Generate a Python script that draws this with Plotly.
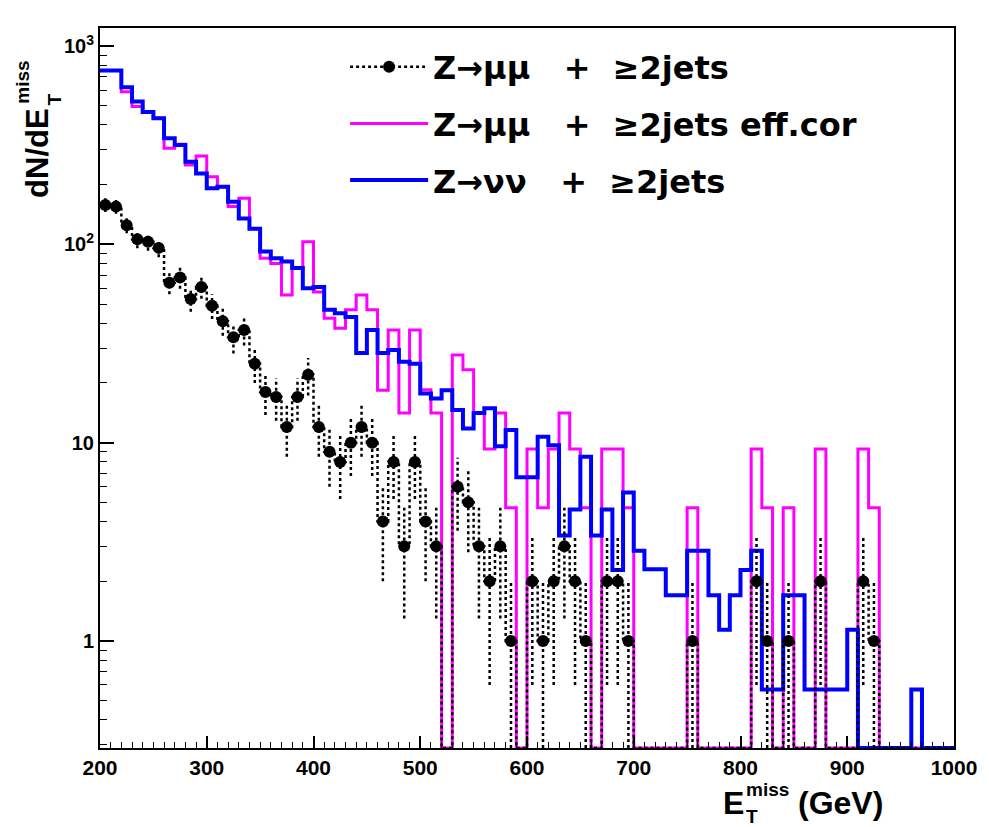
import numpy as np
import plotly.graph_objects as go

# ---------------- data (10 GeV bins from 200 to 1000 GeV) ----------------
bin_edges = list(range(200, 1001, 10))

zmumu_counts = [158, 155, 125, 106, 103, 96, 64, 68, 53, 61,
                49, 41, 34, 37, 25, 18, 17, 12, 17, 22,
                12, 9, 8, 10, 12, 10, 4, 8, 3, 8,
                4, 3, 0, 6, 5, 3, 2, 3, 1, 0,
                2, 1, 2, 3, 2, 1, 0, 2, 2, 1,
                0, 0, 0, 0, 0, 1, 0, 0, 0, 0,
                0, 2, 1, 0, 1, 0, 0, 2, 0, 0,
                0, 2, 1, 0, 0, 0, 0, 0, 0, 0]

zmumu_errors = [12.6, 12.4, 11.2, 10.3, 10.1, 9.8, 8.0, 8.2, 7.3, 7.8,
                7.0, 6.4, 5.8, 6.1, 5.0, 4.2, 4.1, 3.5, 4.1, 4.7,
                3.5, 3.0, 2.8, 3.2, 3.5, 3.2, 2.0, 2.8, 1.7, 2.8,
                2.0, 1.7, 0, 2.4, 2.2, 1.7, 1.4, 1.7, 1.0, 0,
                1.4, 1.0, 1.4, 1.7, 1.4, 1.0, 0, 1.4, 1.4, 1.0,
                0, 0, 0, 0, 0, 1.0, 0, 0, 0, 0,
                0, 1.4, 1.0, 0, 1.0, 0, 0, 1.4, 0, 0,
                0, 1.4, 1.0, 0, 0, 0, 0, 0, 0, 0]

zmumu_effcor = [752, 752, 589, 495, 467, 432, 305, 320, 251, 279,
                219, 195, 155, 171, 120, 85, 80, 55.6, 76, 103,
                57.5, 42.4, 37.8, 46.8, 55.6, 46.8, 18.4, 37, 14.1, 37,
                18.5, 14.1, 0, 27.7, 23.3, 14.1, 9.3, 14.1, 4.7, 0,
                9.3, 4.7, 9.3, 14.1, 9.3, 4.7, 0, 9.3, 9.3, 4.7,
                0, 0, 0, 0, 0, 4.7, 0, 0, 0, 0,
                0, 9.3, 4.7, 0, 4.7, 0, 0, 9.3, 0, 0,
                0, 9.3, 4.7, 0, 0, 0, 0, 0, 0, 0]

znunu = [752, 752, 620, 525, 465, 432, 343, 317, 261, 228,
         192, 195, 164, 135, 120, 92, 85, 82, 76, 60,
         61, 46.8, 45, 43, 28.3, 37, 28.3, 29.3, 25.6, 25,
         17.7, 16.7, 18.4, 14.6, 11.8, 14.1, 14.9, 9.6, 11.6, 6.7,
         6.7, 10.7, 9.7, 3.4, 4.6, 8.5, 3.4, 4.6, 2.28, 5.6,
         2.85, 2.3, 2.3, 1.7, 1.7, 2.85, 2.85, 1.7, 1.14, 1.7,
         2.28, 2.85, 0.57, 0.57, 1.7, 1.7, 0.57, 0.57, 0.57, 0.57,
         1.14, 0, 0, 0, 0, 0, 0.57, 0, 0, 0]

y_tick_vals = [1, 10, 100, 1000]
y_tick_text = ["1", "10", "10<sup>2</sup>", "10<sup>3</sup>"]
x_tick_vals = [200, 300, 400, 500, 600, 700, 800, 900, 1000]

name_mumu = "Z\u2192\u03bc\u03bc\u00a0\u00a0\u00a0+\u00a0\u00a0\u22652jets"
name_eff = "Z\u2192\u03bc\u03bc\u00a0\u00a0\u00a0+\u00a0\u00a0\u22652jets\u00a0eff.cor"
name_nunu = "Z\u2192\u03bd\u03bd\u00a0\u00a0\u00a0+\u00a0\u00a0\u22652jets"

# ---------------- helpers ----------------
LOG_MIN, LOG_MAX = -0.5396, 3.091
YMIN = 10 ** LOG_MIN

edges = np.array(bin_edges, dtype=float)
centers = 0.5 * (edges[:-1] + edges[1:])


def step_y(vals):
    v = [x if x > 0 else YMIN for x in vals]
    return v + [v[-1]]


fig = go.Figure()

fig.add_trace(go.Scatter(
    x=edges, y=step_y(zmumu_effcor), mode="lines", line_shape="hv",
    line=dict(color="#ff00ff", width=3), name=name_eff,
    legendgroup="b", legendrank=2))

fig.add_trace(go.Scatter(
    x=edges, y=step_y(znunu), mode="lines", line_shape="hv",
    line=dict(color="#0000ff", width=4), name=name_nunu,
    legendgroup="c", legendrank=3))

fig.add_trace(go.Scatter(
    x=edges, y=step_y(zmumu_counts), mode="lines", line_shape="hv",
    line=dict(color="black", width=2.5, dash="dot"),
    showlegend=False, hoverinfo="skip"))

ex, ey = [], []
for c, n, e in zip(centers, zmumu_counts, zmumu_errors):
    if n > 0:
        lo = n - e
        ex += [c, c, None]
        ey += [lo if lo > YMIN else YMIN, n + e, None]
fig.add_trace(go.Scatter(
    x=ex, y=ey, mode="lines", line=dict(color="black", width=2.5, dash="dot"),
    showlegend=False, hoverinfo="skip"))

mx, my = [], []
for c, n in zip(centers, zmumu_counts):
    if n > 0:
        mx += [c, None]
        my += [n, None]
fig.add_trace(go.Scatter(
    x=mx, y=my, mode="lines+markers", connectgaps=False,
    line=dict(color="black", width=2.5, dash="dot"),
    marker=dict(color="black", size=12, symbol="circle"),
    name=name_mumu, legendgroup="a", legendrank=1))

minor_y = []
for dec in [0.1, 1, 10, 100]:
    for k in range(2, 10):
        v = k * dec
        if YMIN <= v <= 10 ** LOG_MAX:
            minor_y.append(v)

fig.update_layout(
    width=989, height=827,
    margin=dict(l=100, r=27, t=28, b=79),
    paper_bgcolor="white", plot_bgcolor="white",
    showlegend=True,
    legend=dict(x=0.287, y=0.984, xanchor="left", yanchor="top",
                font=dict(family="DejaVu Sans", size=32, color="black", weight="bold"),
                bgcolor="rgba(0,0,0,0)", traceorder="grouped", tracegroupgap=12,
                itemwidth=78),
    xaxis=dict(range=[200, 1000], tickmode="array", tickvals=x_tick_vals,
               ticks="inside", ticklen=12, tickwidth=1.5, tickcolor="black",
               minor=dict(dtick=10, tick0=200, ticks="inside", ticklen=6,
                          tickwidth=1.2, tickcolor="black"),
               showline=True, linecolor="black", linewidth=2, mirror=True,
               showgrid=False, zeroline=False,
               tickfont=dict(family="Liberation Sans", size=21, color="black", weight="bold")),
    yaxis=dict(type="log", range=[LOG_MIN, LOG_MAX], tickmode="array",
               tickvals=y_tick_vals, ticktext=y_tick_text,
               ticks="inside", ticklen=14, tickwidth=1.5, tickcolor="black",
               minor=dict(tickmode="array", tickvals=minor_y, ticks="inside",
                          ticklen=7, tickwidth=1.2, tickcolor="black"),
               showline=True, linecolor="black", linewidth=2, mirror=True,
               showgrid=False, zeroline=False,
               tickfont=dict(family="Liberation Sans", size=20, color="black", weight="bold")),
)


def bold(size):
    return dict(family="Liberation Sans", size=size, color="black", weight="bold")


# x-axis title:  E_T^miss (GeV)  with stacked sub/superscript
fig.add_annotation(xref="paper", yref="paper", x=0.7274, y=-0.0764,
                   xanchor="left", yanchor="middle", showarrow=False,
                   text="E", font=bold(32))
fig.add_annotation(xref="paper", yref="paper", x=0.754, y=-0.058,
                   xanchor="left", yanchor="middle", showarrow=False,
                   text="miss", font=bold(19))
fig.add_annotation(xref="paper", yref="paper", x=0.754, y=-0.0955,
                   xanchor="left", yanchor="middle", showarrow=False,
                   text="T", font=bold(19))
fig.add_annotation(xref="paper", yref="paper", x=0.8155, y=-0.0764,
                   xanchor="left", yanchor="middle", showarrow=False,
                   text="(GeV)", font=bold(32))

# y-axis title:  dN/dE_T^miss  (rotated)
fig.add_annotation(xref="paper", yref="paper", x=-0.073, y=0.826,
                   xanchor="center", yanchor="middle", showarrow=False,
                   textangle=-90, text="dN/dE", font=bold(31))
fig.add_annotation(xref="paper", yref="paper", x=-0.0905, y=0.925,
                   xanchor="center", yanchor="middle", showarrow=False,
                   textangle=-90, text="miss", font=bold(19))
fig.add_annotation(xref="paper", yref="paper", x=-0.0535, y=0.901,
                   xanchor="center", yanchor="middle", showarrow=False,
                   textangle=-90, text="T", font=bold(19))

fig.write_html("out.html")
